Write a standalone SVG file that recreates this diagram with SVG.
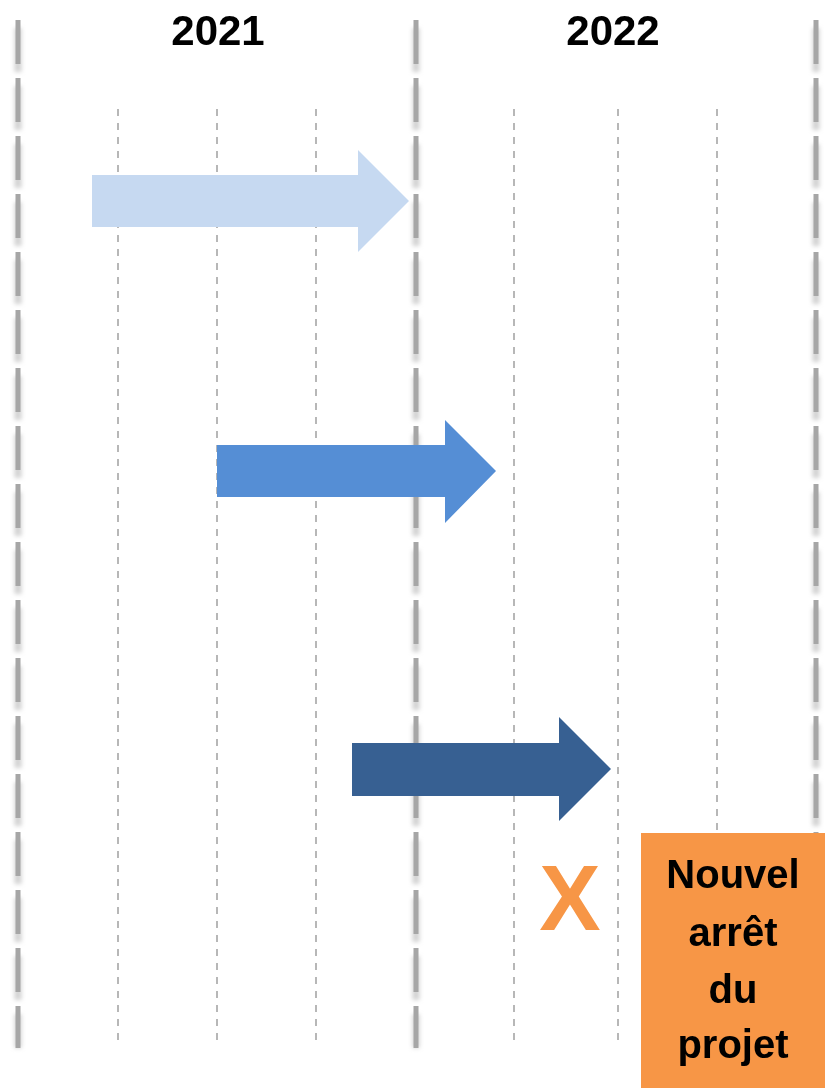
<svg xmlns="http://www.w3.org/2000/svg" width="825" height="1088" viewBox="0 0 825 1088">
<defs>
<style>
.thick{stroke:#a6a6a6;stroke-width:5;stroke-dasharray:44 14;fill:none}
.shadow{stroke:#bdbdbd;stroke-width:7;stroke-dasharray:44 14;fill:none;opacity:0.7}
.thin{stroke:#a6a6a6;stroke-width:1.6;stroke-dasharray:7 7;fill:none}
.year{font-family:"Liberation Sans",Arial,sans-serif;font-weight:bold;font-size:42px;fill:#000;text-anchor:middle}
.box{font-family:"Liberation Sans",Arial,sans-serif;font-weight:bold;font-size:40px;fill:#000;text-anchor:middle}
</style>
<filter id="blur" x="-2" y="-0.1" width="5" height="1.2"><feGaussianBlur stdDeviation="2"/></filter>
</defs>
<rect width="825" height="1088" fill="#fff"/>
<g id="grid">
<g filter="url(#blur)">
<line class="shadow" x1="18" y1="28" x2="18" y2="1048"/>
<line class="shadow" x1="416" y1="28" x2="416" y2="1048"/>
<line class="shadow" x1="816" y1="28" x2="816" y2="826"/>
</g>
<line class="thick" x1="18" y1="20" x2="18" y2="1048"/>
<line class="thick" x1="416" y1="20" x2="416" y2="1048"/>
<line class="thick" x1="816" y1="20" x2="816" y2="1034"/>
<line class="thin" x1="118" y1="109" x2="118" y2="1047"/>
<line class="thin" x1="217" y1="109" x2="217" y2="1047"/>
<line class="thin" x1="316" y1="109" x2="316" y2="1047"/>
<line class="thin" x1="514" y1="109" x2="514" y2="1047"/>
<line class="thin" x1="618" y1="109" x2="618" y2="1047"/>
<line class="thin" x1="717" y1="109" x2="717" y2="1047"/>
</g>
<g id="years">
<text class="year" x="218" y="45">2021</text>
<text class="year" x="613" y="45">2022</text>
</g>
<g id="arrow1"><polygon fill="#c6d9f1" points="92,175 358,175 358,150 409,201 358,252 358,227 92,227"/></g>
<g id="arrow2"><polygon fill="#558ed5" points="217,445 445,445 445,420 496,471 445,523 445,497 217,497"/></g>
<g id="arrow3"><polygon fill="#376092" points="352,743 559,743 559,717 611,769 559,821 559,796 352,796"/></g>
<g id="cross"><text x="570" y="930" style="font-family:'Liberation Sans',Arial,sans-serif;font-weight:bold;font-size:92px;fill:#f79646;text-anchor:middle">X</text></g>
<g id="stop">
<rect x="641" y="833" width="184" height="255" fill="#f79646"/>
<text class="box" x="733" y="888">Nouvel</text>
<text class="box" x="733" y="946">arrêt</text>
<text class="box" x="733" y="1003">du</text>
<text class="box" x="733" y="1058">projet</text>
</g>
</svg>
